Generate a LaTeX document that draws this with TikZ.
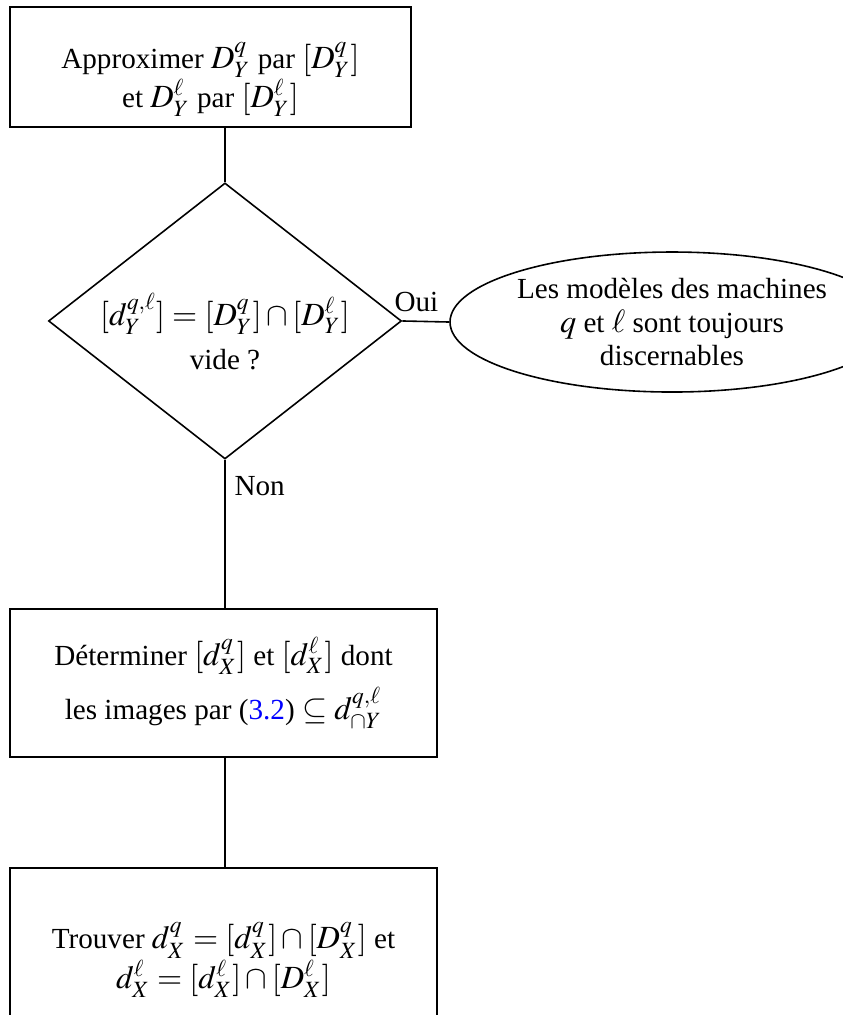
\documentclass[tikz,border=0pt]{standalone}
\usepackage{amsmath,amssymb}
\usepackage{mathptmx}
\usepackage[no-math]{fontspec}
\setmainfont{Liberation Serif}
\DeclareMathSizes{11}{12.2}{8.8}{6.6}
\usepackage{tikz}
\usetikzlibrary{shapes.geometric,positioning,calc}
\definecolor{refBlue}{RGB}{0,0,255}

\tikzset{
  every node/.style={font=\fontsize{11}{12.5}\selectfont},
  stepbox/.style={draw, rectangle, align=center, inner sep=0pt, semithick},
  testbox/.style={draw, diamond, aspect=1.3, align=center, inner sep=-6pt, semithick},
  endbox/.style={draw, ellipse, align=center, inner sep=0pt, semithick},
  link/.style={semithick}
}

\begin{document}
\begin{tikzpicture}
        \useasboundingbox (0,0) rectangle (11.168,-13.462);
        \node[stepbox, minimum width=5.318cm, minimum height=1.592cm] (approx) at (2.792,-0.889)
          {\rule{0pt}{19pt}Approximer $D_Y^q$ par $[D_Y^q]$\\ et $D_Y^\ell$ par $[D_Y^\ell]$};
        \node[testbox, minimum width=4.682cm, minimum height=3.661cm] (empty) at (2.984,-4.257)
          {\rule{0pt}{20pt}$[d_Y^{q,\ell}] = [D_Y^q] \cap [D_Y^\ell]$\\[4pt] vide ?};
        \node[endbox, minimum width=5.889cm, minimum height=1.857cm] (distinct) at (8.913,-4.271)
          {Les modèles des machines\\ $q$ et $\ell$ sont toujours\\ discernables};
        \node[stepbox, minimum width=5.663cm, minimum height=1.963cm] (preimg) at (2.964,-9.059)
          {Déterminer $[d_X^q]$ et $[d_X^\ell]$ dont\\[4pt] les images par (\textcolor{refBlue}{3.2}) $\subseteq d_{\cap Y}^{q,\ell}$};
        \node[stepbox, minimum width=5.663cm, minimum height=2.44cm] (inter) at (2.964,-12.732)
          {Trouver $d_X^q = [d_X^q] \cap [D_X^q]$ et\\ $d_X^\ell = [d_X^\ell] \cap [D_X^\ell]$};
        \draw[link] (empty.north) -- (empty.north |- approx.south);
        \draw[link] (empty.east) -- node[above, pos=0.3]{Oui} (distinct.west);
        \draw[link] (empty.south) -- node[right, pos=0.18]{Non} (empty.south |- preimg.north);
        \draw[link] (empty.south |- preimg.south) -- (empty.south |- inter.north);
      \end{tikzpicture}
\end{document}
